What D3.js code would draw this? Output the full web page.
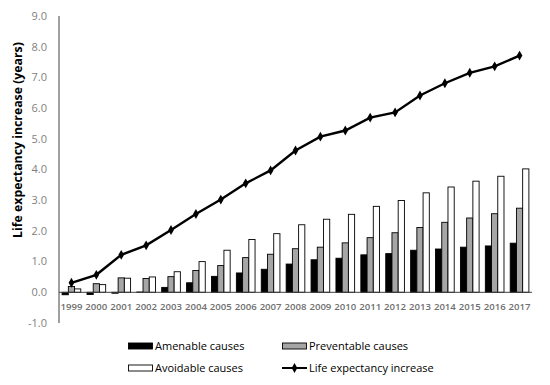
<!DOCTYPE html>
<html><head><meta charset="utf-8">
<script src="https://cdn.jsdelivr.net/npm/d3@7"></script>
<style>body{margin:0;background:#fff}svg{display:block}</style>
</head><body>
<svg id="c" width="550" height="385"></svg>
<script>
const years = ["1999","2000","2001","2002","2003","2004","2005","2006","2007","2008","2009","2010","2011","2012","2013","2014","2015","2016","2017"];
const amenable = [-0.08,-0.07,-0.03,0.01,0.16,0.31,0.52,0.63,0.75,0.92,1.06,1.11,1.22,1.26,1.37,1.41,1.47,1.51,1.60];
const preventable = [0.19,0.28,0.47,0.45,0.51,0.71,0.87,1.13,1.24,1.42,1.47,1.61,1.78,1.94,2.11,2.28,2.42,2.56,2.74];
const avoidable = [0.11,0.25,0.46,0.50,0.67,1.00,1.37,1.72,1.91,2.20,2.38,2.54,2.80,2.99,3.24,3.43,3.62,3.78,4.02];
const lifeExp = [0.31,0.57,1.22,1.53,2.03,2.55,3.02,3.55,3.97,4.62,5.07,5.27,5.69,5.86,6.41,6.81,7.15,7.36,7.71];
const yTicks = [-1,0,1,2,3,4,5,6,7,8,9];
const seriesNames = ["Amenable causes","Preventable causes","Avoidable causes","Life expectancy increase"];

const svg = d3.select("#c");
const x = d3.scaleBand().domain(years).range([59, 532]);
const y = d3.scaleLinear().domain([-1, 9]).range([323, 16]);
const fills = ["#000000", "#a6a6a6", "#ffffff"];
const sub = d3.scaleBand().domain([0,1,2]).range([0, x.bandwidth()]).paddingInner(0).paddingOuter(0.5);

// y labels
svg.append("g").selectAll("text").data(yTicks).join("text")
  .attr("x", 47).attr("y", d => y(d)).attr("dy", "0.35em")
  .attr("text-anchor", "end").attr("fill", "#7f7f7f")
  .style("font", "11px 'Open Sans', sans-serif")
  .text(d => d.toFixed(1));

// bars
const series = [amenable, preventable, avoidable];
series.forEach((vals, si) => {
  svg.append("g").selectAll("rect").data(vals).join("rect")
    .attr("x", (d, i) => x(years[i]) + sub(si))
    .attr("width", sub.bandwidth())
    .attr("y", d => y(Math.max(0, d)))
    .attr("height", d => Math.abs(y(d) - y(0)))
    .attr("fill", fills[si])
    .attr("stroke", "#000").attr("stroke-width", 0.9);
});

// axes lines
svg.append("line").attr("x1", 59).attr("x2", 59).attr("y1", 16).attr("y2", 323)
  .attr("stroke", "#404040").attr("stroke-width", 1);
svg.append("line").attr("x1", 59).attr("x2", 532).attr("y1", y(0)).attr("y2", y(0))
  .attr("stroke", "#404040").attr("stroke-width", 1);

// x labels
svg.append("g").selectAll("text").data(years).join("text")
  .attr("x", d => x(d) + x.bandwidth()/2).attr("y", 307).attr("dy", "0.35em")
  .attr("text-anchor", "middle").attr("fill", "#6f6f6f")
  .style("font", "600 9.6px 'Open Sans', sans-serif")
  .text(d => d);

// line
const cx = (d, i) => x(years[i]) + x.bandwidth()/2;
svg.append("path").datum(lifeExp)
  .attr("d", d3.line().x(cx).y(d => y(d)))
  .attr("fill", "none").attr("stroke", "#000").attr("stroke-width", 2.4);
const diamond = d3.symbol().type(d3.symbolDiamond).size(28);
svg.append("g").selectAll("path").data(lifeExp).join("path")
  .attr("transform", (d, i) => `translate(${cx(d, i)},${y(d)})`)
  .attr("d", diamond).attr("fill", "#000");

// y title
svg.append("text").attr("transform", "translate(18,140) rotate(-90)")
  .attr("text-anchor", "middle").attr("dy", "0.35em")
  .style("font", "bold 12.3px 'Open Sans', sans-serif").attr("fill", "#000")
  .text("Life expectancy increase (years)");

// legend
const leg = [
  {x: 128, y: 346, name: seriesNames[0], type: "bar", fill: fills[0]},
  {x: 282, y: 346, name: seriesNames[1], type: "bar", fill: fills[1]},
  {x: 128, y: 368, name: seriesNames[2], type: "bar", fill: fills[2]},
  {x: 282, y: 368, name: seriesNames[3], type: "line"}
];
leg.forEach(l => {
  const g = svg.append("g");
  if (l.type === "bar") {
    g.append("rect").attr("x", l.x + 0.5).attr("y", l.y - 3).attr("width", 24).attr("height", 6)
      .attr("fill", l.fill).attr("stroke", "#000").attr("stroke-width", 0.9);
  } else {
    g.append("line").attr("x1", l.x).attr("x2", l.x + 25).attr("y1", l.y).attr("y2", l.y)
      .attr("stroke", "#000").attr("stroke-width", 2);
    g.append("path").attr("transform", `translate(${l.x + 12.5},${l.y})`).attr("d", diamond).attr("fill", "#000");
  }
  g.append("text").attr("x", l.x + 27).attr("y", l.y).attr("dy", "0.35em")
    .style("font", "11px 'Open Sans', sans-serif").attr("fill", "#000").text(l.name);
});
</script>
</body></html>
